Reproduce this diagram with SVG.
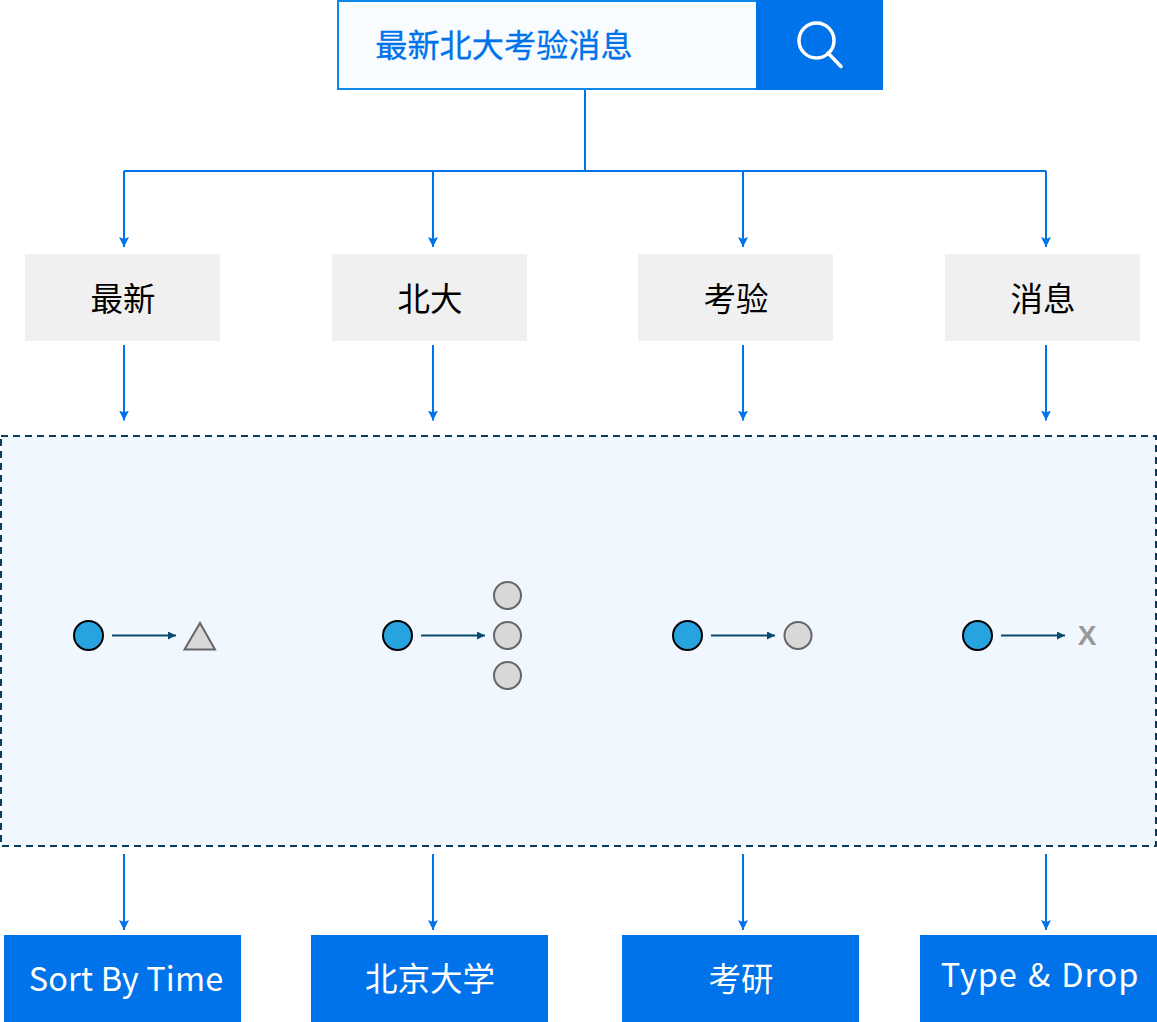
<svg xmlns="http://www.w3.org/2000/svg" width="1157" height="1022" viewBox="0 0 1157 1022">
<style>
text{font-family:"Noto Sans CJK SC","Noto Sans",sans-serif;text-anchor:middle}
.g{fill:#f0f0f0}
.gt{font-size:32.5px;fill:#000}
.b{fill:#0073ea}
.bt{font-size:32.5px;fill:#fff}
.c{fill:none;stroke:#0073ea;stroke-width:2}
.d{fill:none;stroke:#0a4a6e;stroke-width:2}
.src{fill:#27a4e0;stroke:#000;stroke-width:2}
.dst{fill:#d8d8d8;stroke:#666;stroke-width:2}
</style>
<defs>
<marker id="ab" markerUnits="userSpaceOnUse" markerWidth="10" markerHeight="10" refX="10" refY="5" orient="auto"><path d="M0 0L10 5L0 10L2 5Z" fill="#0073ea"/></marker>
<marker id="ad" markerUnits="userSpaceOnUse" markerWidth="8" markerHeight="8" refX="8" refY="4" orient="auto"><path d="M0 0L8 4L0 8Z" fill="#0a4a6e"/></marker>
</defs>
<g id="search">
<rect x="338" y="1" width="419" height="88" fill="#f9fcff" stroke="#0e88ea" stroke-width="2"/>
<rect x="756" y="0" width="127" height="90" fill="#0073ea"/>
<circle cx="816.500" cy="40.500" r="17.500" fill="none" stroke="#fff" stroke-width="3.500"/>
<line x1="828" y1="53" x2="841" y2="66.500" stroke="#fff" stroke-width="3.500" stroke-linecap="round"/>
<text x="504" y="57" font-size="32.200" fill="#0073ea" stroke="#0073ea" stroke-width="0.3">最新北大考验消息</text>
</g>
<g id="connectors">
<path class="c" d="M585 90V171M124 171H1046"/>
<path class="c" d="M124 171V247" marker-end="url(#ab)"/>
<path class="c" d="M433 171V247" marker-end="url(#ab)"/>
<path class="c" d="M743 171V247" marker-end="url(#ab)"/>
<path class="c" d="M1046 171V247" marker-end="url(#ab)"/>
<path class="c" d="M124 345V420.500" marker-end="url(#ab)"/>
<path class="c" d="M433 345V420.500" marker-end="url(#ab)"/>
<path class="c" d="M743 345V420.500" marker-end="url(#ab)"/>
<path class="c" d="M1046 345V420.500" marker-end="url(#ab)"/>
<path class="c" d="M124 854V930" marker-end="url(#ab)"/>
<path class="c" d="M433 854V930" marker-end="url(#ab)"/>
<path class="c" d="M743 854V930" marker-end="url(#ab)"/>
<path class="c" d="M1046 854V930" marker-end="url(#ab)"/>
</g>
<g id="term-1"><rect class="g" x="25" y="254" width="195" height="87"/><text class="gt" x="123" y="311">最新</text></g>
<g id="term-2"><rect class="g" x="332" y="254" width="195" height="87"/><text class="gt" x="430" y="311">北大</text></g>
<g id="term-3"><rect class="g" x="638" y="254" width="195" height="87"/><text class="gt" x="736" y="311">考验</text></g>
<g id="term-4"><rect class="g" x="945" y="254" width="195" height="87"/><text class="gt" x="1043" y="311">消息</text></g>
<g id="panel">
<rect x="1" y="436" width="1155" height="410" fill="#f0f7ff" stroke="#0a3d5c" stroke-width="2" stroke-dasharray="7 5"/>
<circle class="src" cx="88.500" cy="635.500" r="14.500"/>
<path class="d" d="M112 635.500H176" marker-end="url(#ad)"/>
<path class="dst" d="M200 623L215 649.500H184.500Z"/>
<circle class="src" cx="397.500" cy="635.500" r="14.500"/>
<path class="d" d="M421 635.500H485" marker-end="url(#ad)"/>
<circle class="dst" cx="507.500" cy="595.500" r="13.500"/>
<circle class="dst" cx="507.500" cy="635.500" r="13.500"/>
<circle class="dst" cx="507.500" cy="675.500" r="13.500"/>
<circle class="src" cx="687.500" cy="635.500" r="14.500"/>
<path class="d" d="M711 635.500H775" marker-end="url(#ad)"/>
<circle class="dst" cx="798" cy="635.500" r="13.500"/>
<circle class="src" cx="977.500" cy="635.500" r="14.500"/>
<path class="d" d="M1001 635.500H1065" marker-end="url(#ad)"/>
<text x="1087" y="644.500" font-size="28" font-weight="700" fill="#999" style="font-family:'Liberation Sans',sans-serif">X</text>
</g>
<g id="result-1"><rect class="b" x="4" y="935" width="237" height="87"/><text class="bt" x="126" y="990.500" letter-spacing="0.15">Sort By Time</text></g>
<g id="result-2"><rect class="b" x="311" y="935" width="237" height="87"/><text class="bt" x="430" y="991">北京大学</text></g>
<g id="result-3"><rect class="b" x="622" y="935" width="237" height="87"/><text class="bt" x="741" y="991">考研</text></g>
<g id="result-4"><rect class="b" x="920" y="935" width="237" height="87"/><text class="bt" x="1040" y="986.500" letter-spacing="0.9" word-spacing="2">Type &amp; Drop</text></g>
</svg>
